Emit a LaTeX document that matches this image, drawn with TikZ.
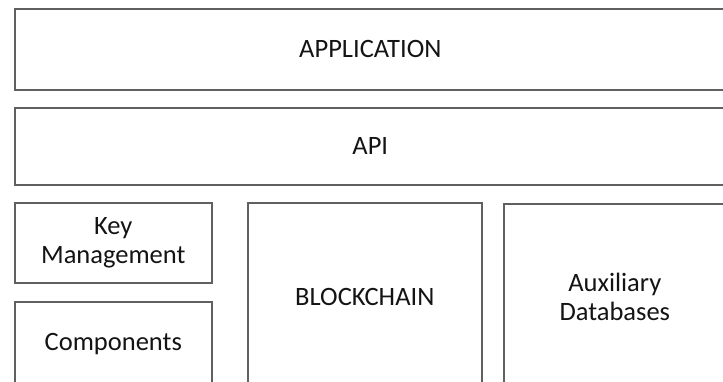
\documentclass[tikz,border=0pt]{standalone}
\usepackage{fontspec}
\setmainfont{Carlito}
\definecolor{linegray}{RGB}{96,96,96}
\definecolor{textblack}{RGB}{20,20,20}
\begin{document}
\begin{tikzpicture}[x=1pt,y=-1pt,
  layer/.style={draw=linegray, line width=1.6pt, fill=white, anchor=north west,
    inner sep=0pt, align=center, text=textblack,
    font=\fontsize{26.5}{29}\selectfont}]
\useasboundingbox (0,0) rectangle (723,381);
\clip (0,0) rectangle (723,381);
\node[layer, minimum width=711pt, minimum height=81pt] (app) at (14,8) {APPLICATION};
\node[layer, minimum width=711pt, minimum height=77pt] (api) at (14,107) {API};
\node[layer, minimum width=197pt, minimum height=80pt] (key) at (14,202) {Key\\Management};
\node[layer, minimum width=197pt, minimum height=84pt] (comp) at (14,301) {Components};
\node[layer, minimum width=234pt, minimum height=188pt] (chain) at (247,202) {BLOCKCHAIN};
\node[layer, minimum width=222pt, minimum height=186pt] (aux) at (503,203) {Auxiliary\\Databases};
\end{tikzpicture}
\end{document}
